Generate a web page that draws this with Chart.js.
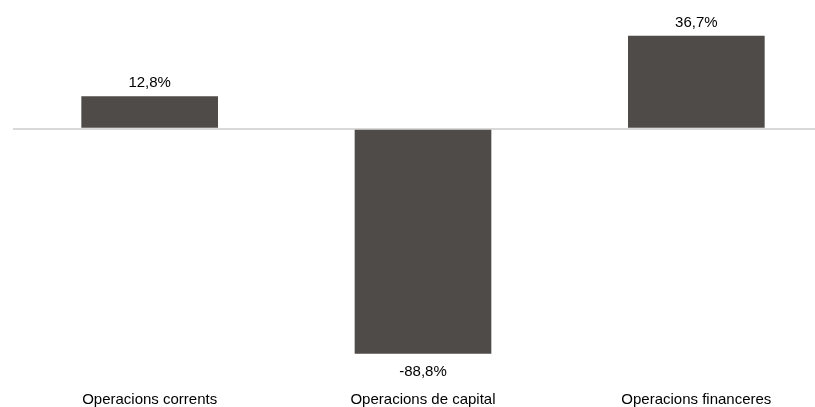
<!DOCTYPE html>
<html>
<head>
<meta charset="utf-8">
<script src="https://cdn.jsdelivr.net/npm/chart.js@4"></script>
<style>
  html, body { margin: 0; padding: 0; background: #fff; overflow: hidden; }
  /* plot runs past the right edge of the window, as in the reference crop */
  #wrap { width: 833px; height: 407px; }
</style>
</head>
<body>
<div id="wrap"><canvas id="chart"></canvas></div>
<script>
// Data
var categories = ['Operacions corrents', 'Operacions de capital', 'Operacions financeres'];
var values = [12.8, -88.8, 36.7];

var barColor = '#4f4b49';
var fontFamily = '"Liberation Sans", Arial, sans-serif';

function fmt(v) {
	return v.toFixed(1).replace('.', ',') + '%';
}

// draws the value above (or below) each bar
var valueLabels = {
	id: 'valueLabels',
	afterDatasetsDraw: function (chart) {
		var ctx = chart.ctx;
		var meta = chart.getDatasetMeta(0);
		ctx.save();
		ctx.font = '15px ' + fontFamily;
		ctx.fillStyle = '#000';
		ctx.textAlign = 'center';
		ctx.textBaseline = 'middle';
		meta.data.forEach(function (bar, i) {
			var v = values[i];
			var y = v >= 0 ? bar.y - 13 : bar.y + 18;
			ctx.fillText(fmt(v), bar.x, y);
		});
		ctx.restore();
	}
};

new Chart(document.getElementById('chart'), {
	type: 'bar',
	data: {
		labels: categories,
		datasets: [{
			data: values,
			backgroundColor: barColor,
			barPercentage: 1,
			categoryPercentage: 0.5
		}]
	},
	options: {
		responsive: true,
		maintainAspectRatio: false,
		animation: false,
		layout: {
			padding: { left: 13, right: 0, top: 2, bottom: 0 }
		},
		plugins: {
			legend: { display: false },
			tooltip: { enabled: false }
		},
		scales: {
			x: {
				grid: { display: false, drawTicks: false },
				border: { display: false },
				ticks: {
					color: '#000',
					padding: 9,
					maxRotation: 0,
					font: { family: fontFamily, size: 15 }
				},
				afterFit: function (scale) { scale.height = 25; }
			},
			y: {
				min: -100,
				max: 50,
				ticks: { display: false, stepSize: 50 },
				border: { display: false },
				grid: {
					drawTicks: false,
					lineWidth: 2,
					color: function (c) {
						return c.tick && c.tick.value === 0 ? '#d9d9d9' : 'rgba(0,0,0,0)';
					}
				},
				afterFit: function (scale) { scale.width = 0; }
			}
		}
	},
	plugins: [valueLabels]
});
</script>
</body>
</html>
